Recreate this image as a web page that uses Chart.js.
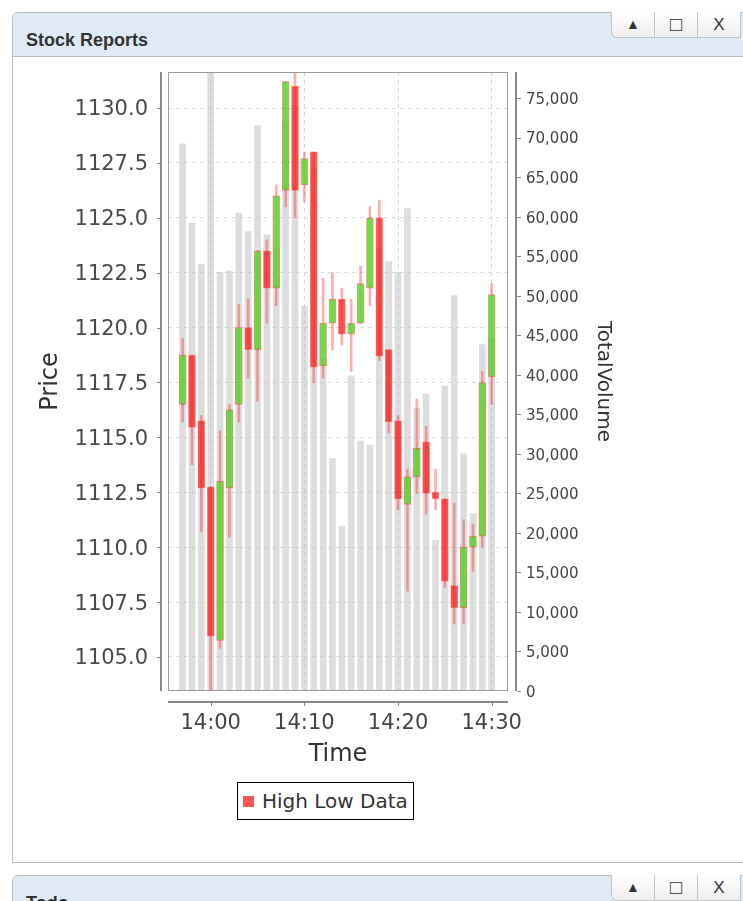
<!DOCTYPE html>
<html>
<head>
<meta charset="utf-8">
<title>Stock Reports</title>
<script src="https://cdn.jsdelivr.net/npm/chart.js@4.4.1/dist/chart.umd.min.js"></script>
<style>
    body { margin: 0; background: #fff; font-family: "Liberation Sans", Arial, sans-serif; overflow: hidden; }
    .win { position: absolute; left: 12px; width: 760px; border: 1px solid #b9b9b9; border-radius: 6px 6px 0 0; background: #fff; }
    .win .head { height: 43px; background: #dfeaf4; border-bottom: 1px solid #b4bfca; border-radius: 6px 6px 0 0; position: relative; }
    .win .head span { position: absolute; left: 13px; top: 17px; font-weight: bold; font-size: 18px; color: #333; }
    .btns { position: absolute; left: 599px; top: -1px; display: flex; }
    .btns div { width: 42px; height: 25px; border: 1px solid #c4c4c4; border-top: none; margin-left: -1px;
        background: linear-gradient(#ffffff, #eeeeee); color: #333; font-size: 14px; text-align: center; line-height: 25px; }
    .btns div:first-child { border-radius: 0 0 0 6px; }
    .btns .sq { font-size: 20px; font-weight: bold; line-height: 24px; }
    .btns .cl { font-size: 17px; }
    #chartBox { position: absolute; left: 0; top: 0; }
    .legend { position: absolute; left: 237px; top: 782px; width: 177px; height: 38px; box-sizing: border-box;
        border: 1px solid #000; background: #fff; font-family: "DejaVu Sans", sans-serif; font-size: 20px; color: #333; }
    .legend i { position: absolute; left: 5px; top: 13px; width: 11px; height: 11px; background: #ff5555; }
    .legend span { position: absolute; left: 24px; top: 6px; }
</style>
</head>
<body>
<div class="win" style="top:12px; height:849px;">
    <div class="head"><span>Stock Reports</span>
        <div class="btns"><div>&#9650;</div><div class="sq">&#9633;</div><div class="cl">X</div></div>
    </div>
</div>
<div class="win" style="top:875px; height:60px;">
    <div class="head"><span>Todo</span>
        <div class="btns"><div>&#9650;</div><div class="sq">&#9633;</div><div class="cl">X</div></div>
    </div>
</div>
<canvas id="chartBox" width="743" height="860"></canvas>
<div class="legend"><i></i><span>High Low Data</span></div>

<script>
// one candle per minute
const times = ['13:57', '13:58', '13:59', '14:00', '14:01', '14:02', '14:03', '14:04', '14:05', '14:06',
    '14:07', '14:08', '14:09', '14:10', '14:11', '14:12', '14:13', '14:14', '14:15', '14:16',
    '14:17', '14:18', '14:19', '14:20', '14:21', '14:22', '14:23', '14:24', '14:25', '14:26',
    '14:27', '14:28', '14:29', '14:30'];
const openPrices = [1116.5, 1118.75, 1115.75, 1112.75, 1105.75, 1112.7, 1116.5, 1120.0, 1119.0, 1123.5,
    1121.8, 1126.25, 1131.0, 1126.5, 1128.0, 1118.25, 1120.2, 1121.3, 1119.7, 1120.2,
    1121.8, 1125.0, 1119.0, 1115.75, 1111.95, 1113.2, 1114.8, 1112.5, 1112.2, 1108.25,
    1107.25, 1110.0, 1110.5, 1117.75];
const highPrices = [1119.5, 1118.75, 1116.0, 1112.75, 1115.3, 1116.5, 1121.05, 1121.3, 1123.5, 1124.0,
    1126.5, 1131.2, 1131.8, 1128.0, 1128.0, 1122.25, 1122.5, 1121.8, 1121.3, 1122.8,
    1125.5, 1125.8, 1119.0, 1116.0, 1113.55, 1116.75, 1115.5, 1113.55, 1112.2, 1112.0,
    1111.25, 1111.05, 1118.0, 1122.0];
const lowPrices = [1115.7, 1113.75, 1110.7, 1103.0, 1105.4, 1110.45, 1115.7, 1117.7, 1116.65, 1120.2,
    1121.0, 1125.5, 1125.0, 1125.75, 1117.5, 1117.7, 1119.0, 1119.2, 1118.0, 1120.2,
    1121.0, 1118.5, 1115.2, 1111.7, 1108.0, 1112.45, 1111.5, 1111.7, 1108.15, 1106.5,
    1106.5, 1108.9, 1110.0, 1116.5];
const closePrices = [1118.75, 1115.45, 1112.7, 1105.95, 1113.0, 1116.25, 1120.0, 1119.0, 1123.5, 1121.8,
    1126.0, 1131.2, 1126.25, 1127.7, 1118.2, 1120.2, 1121.3, 1119.7, 1120.2, 1122.0,
    1125.0, 1118.7, 1115.7, 1112.2, 1113.2, 1114.5, 1112.45, 1112.2, 1108.45, 1107.25,
    1110.0, 1110.5, 1117.5, 1121.5];
const volumes = [69200, 59200, 54000, 80000, 52950, 53150, 60450, 58100, 71500, 57700,
    56000, 72000, 74000, 48650, 66000, 42000, 29400, 20850, 39850, 31600,
    31100, 56000, 54300, 52950, 61000, 35750, 37550, 19050, 38550, 50000,
    30000, 22450, 43800, 44650];

const timeTicks = ['14:00', '14:10', '14:20', '14:30'];
const priceTicks = [1105, 1107.5, 1110, 1112.5, 1115, 1117.5, 1120, 1122.5, 1125, 1127.5, 1130];
const volumeTicks = [0, 5000, 10000, 15000, 20000, 25000, 30000, 35000, 40000, 45000,
    50000, 55000, 60000, 65000, 70000, 75000];

function toMinutes(t) {
    const p = t.split(':');
    return Number(p[0]) * 60 + Number(p[1]);
}
function minutesLabel(v) {
    const h = Math.floor(v / 60), m = Math.round(v - h * 60);
    return h + ':' + String(m).padStart(2, '0');
}

const xs = times.map(toMinutes);
const isUp = closePrices.map((c, i) => c >= openPrices[i]);

// axis lines, ticks and the plot border, drawn JFreeChart-like with a small gap
const axisFrame = {
    id: 'axisFrame',
    afterDraw(chart) {
        const { ctx, chartArea: a, scales } = chart;
        ctx.save();
        ctx.strokeStyle = '#9a9a9a';
        ctx.lineWidth = 1;
        ctx.strokeRect(a.left + 0.5, a.top + 0.5, a.width - 1, a.height - 1);

        ctx.strokeStyle = '#888';
        ctx.lineWidth = 2;
        ctx.beginPath();
        ctx.moveTo(a.left - 7, a.top); ctx.lineTo(a.left - 7, a.bottom);
        ctx.moveTo(a.right + 8, a.top); ctx.lineTo(a.right + 8, a.bottom);
        ctx.moveTo(a.left, a.bottom + 11); ctx.lineTo(a.right, a.bottom + 11);
        ctx.stroke();

        ctx.lineWidth = 1;
        ctx.beginPath();
        scales.yPrice.ticks.forEach(t => {
            const y = Math.round(scales.yPrice.getPixelForValue(t.value)) + 0.5;
            ctx.moveTo(a.left - 11, y); ctx.lineTo(a.left - 8, y);
        });
        scales.yVol.ticks.forEach(t => {
            const y = Math.round(scales.yVol.getPixelForValue(t.value)) + 0.5;
            ctx.moveTo(a.right + 9, y); ctx.lineTo(a.right + 13, y);
        });
        scales.x.ticks.forEach(t => {
            const x = Math.round(scales.x.getPixelForValue(t.value)) + 0.5;
            ctx.moveTo(x, a.bottom + 12); ctx.lineTo(x, a.bottom + 15);
        });
        ctx.stroke();
        ctx.restore();
    }
};

const ctx = document.getElementById('chartBox').getContext('2d');
new Chart(ctx, {
    type: 'bar',
    data: {
        datasets: [
            {
                label: 'Bodies',
                yAxisID: 'yPrice',
                data: xs.map((x, i) => ({ x: x, y: [openPrices[i], closePrices[i]] })),
                backgroundColor: isUp.map(u => u ? 'rgba(70,228,40,0.8)' : 'rgba(255,30,30,0.72)'),
                borderColor: 'rgba(255,40,20,0.5)',
                borderWidth: 1,
                borderSkipped: false,
                barThickness: 7,
                grouped: false,
                order: 1
            },
            {
                label: 'Wicks',
                yAxisID: 'yPrice',
                data: xs.map((x, i) => ({ x: x, y: [lowPrices[i], highPrices[i]] })),
                backgroundColor: 'rgba(255,0,0,0.32)',
                borderWidth: 0,
                barThickness: 2,
                grouped: false,
                order: 2
            },
            {
                label: 'TotalVolume',
                yAxisID: 'yVol',
                data: xs.map((x, i) => ({ x: x, y: volumes[i] })),
                backgroundColor: 'rgba(196,196,196,0.58)',
                borderWidth: 0,
                barThickness: 6,
                grouped: false,
                order: 3
            }
        ]
    },
    options: {
        responsive: false,
        animation: false,
        layout: { padding: { left: 0, right: 92, top: 72, bottom: 59 } },
        plugins: {
            legend: { display: false },
            tooltip: { enabled: true }
        },
        scales: {
            x: {
                type: 'linear',
                min: 835.44,
                max: 871.74,
                offset: false,
                afterBuildTicks: s => { s.ticks = timeTicks.map(t => ({ value: toMinutes(t) })); },
                afterFit: s => { s.height = 110; },
                ticks: {
                    callback: v => minutesLabel(v),
                    font: { family: 'DejaVu Sans', size: 21 },
                    color: '#444',
                    padding: 20,
                    maxRotation: 0
                },
                grid: { color: '#d6d6d6', drawTicks: false, offset: false },
                border: { display: false, dash: [4, 4] },
                title: {
                    display: true,
                    text: 'Time',
                    font: { family: 'DejaVu Sans', size: 24 },
                    color: '#333',
                    padding: { top: 0, bottom: 32 }
                }
            },
            yPrice: {
                type: 'linear',
                position: 'left',
                min: 1103.45,
                max: 1131.64,
                afterBuildTicks: s => { s.ticks = priceTicks.map(v => ({ value: v })); },
                afterFit: s => { s.width = 168; },
                ticks: {
                    callback: v => v.toFixed(1),
                    font: { family: 'DejaVu Sans', size: 21 },
                    color: '#4a4a4a',
                    padding: 20,
                    labelOffset: 2
                },
                grid: { color: '#dcdcdc', drawTicks: false },
                border: { display: false, dash: [4, 4] },
                title: {
                    display: true,
                    text: 'Price',
                    font: { family: 'DejaVu Sans', size: 24 },
                    color: '#333',
                    padding: { top: 36, bottom: 0 }
                }
            },
            yVol: {
                type: 'linear',
                position: 'right',
                min: 0,
                max: 78290,
                afterBuildTicks: s => { s.ticks = volumeTicks.map(v => ({ value: v })); },
                afterFit: s => { s.width = 143; },
                ticks: {
                    callback: v => v.toLocaleString('en-US'),
                    font: { family: 'DejaVu Sans', size: 15 },
                    color: '#444',
                    padding: 18,
                    labelOffset: 2
                },
                grid: { display: false, drawTicks: false },
                border: { display: false },
                title: {
                    display: true,
                    text: 'TotalVolume',
                    font: { family: 'DejaVu Sans', size: 20 },
                    color: '#333',
                    padding: { top: 36, bottom: 0 }
                }
            }
        }
    },
    plugins: [axisFrame]
});
</script>
</body>
</html>
